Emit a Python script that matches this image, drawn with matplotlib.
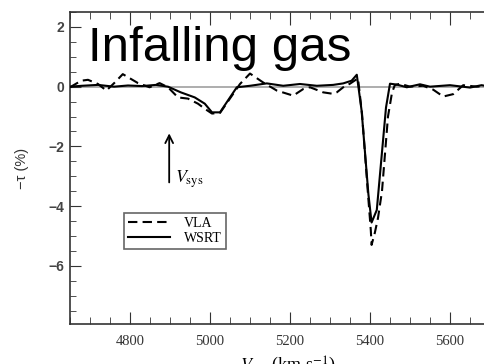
import numpy as np
import matplotlib
matplotlib.use('Agg')
import matplotlib.pyplot as plt
from matplotlib.ticker import MultipleLocator

plt.rcParams['mathtext.fontset'] = 'stix'

# VLA spectrum (dashed)
vla_v = [4650, 4678, 4695, 4720, 4741, 4762, 4782, 4820, 4849, 4874, 4895, 4920,
         4945, 4970, 4987, 5005, 5025, 5075, 5100, 5133, 5167, 5208, 5233, 5250,
         5283, 5308, 5317, 5335, 5350, 5370, 5380, 5395, 5402, 5404, 5412, 5420,
         5430, 5445, 5455, 5462, 5475, 5500, 5533, 5558, 5583, 5608, 5633, 5667, 5700]
vla_tau = [-0.02, 0.2, 0.23, 0.09, -0.13, 0.14, 0.42, 0.12, -0.02, 0.12, -0.02, -0.36,
           -0.4, -0.57, -0.74, -0.9, -0.88, 0.09, 0.44, 0.14, -0.13, -0.3, -0.08, -0.02,
           -0.19, -0.24, -0.19, 0.0, 0.1, 0.28, -0.9, -3.6, -4.8, -5.3, -4.9, -4.4,
           -3.5, -1.0, -0.2, 0.05, 0.1, 0.0, 0.03, -0.1, -0.33, -0.25, 0.05, 0.0, 0.03]

# WSRT spectrum (solid)
wsrt_v = [4650, 4680, 4720, 4760, 4795, 4830, 4865, 4895, 4927, 4962, 4987, 5005,
          5025, 5067, 5100, 5142, 5183, 5225, 5267, 5308, 5333, 5354, 5367, 5379,
          5396, 5404, 5417, 5440, 5450, 5467, 5492, 5525, 5550, 5600, 5650, 5679, 5700]
wsrt_tau = [0.0, 0.03, 0.06, 0.0, 0.04, 0.02, 0.06, 0.0, -0.19, -0.36, -0.57, -0.86,
            -0.86, -0.02, 0.03, 0.11, 0.03, 0.09, 0.03, 0.06, 0.11, 0.2, 0.4, -0.8,
            -3.6, -4.55, -4.13, -0.7, 0.1, 0.07, -0.02, 0.08, 0.0, 0.05, -0.03, 0.05, 0.0]

fig = plt.figure(figsize=(4.85, 3.64), dpi=100)
ax = fig.add_axes([0.1443, 0.1099, 0.866, 0.857])

ax.axhline(0, color='#a0a0a0', lw=1.2, zorder=1)
ax.plot(vla_v, vla_tau, color='black', lw=1.5, ls=(0, (4.5, 2.5)), label='VLA', zorder=3)
ax.plot(wsrt_v, wsrt_tau, color='black', lw=1.5, label='WSRT', zorder=3)

ax.set_xlim(4650, 5700)
ax.set_ylim(-7.95, 2.5)
ax.xaxis.set_major_locator(MultipleLocator(200))
ax.xaxis.set_minor_locator(MultipleLocator(50))
ax.yaxis.set_major_locator(MultipleLocator(2))
ax.yaxis.set_minor_locator(MultipleLocator(0.5))
ax.tick_params(which='both', direction='in', top=True, right=False, color='#333333')
ax.tick_params(axis='x', which='major', length=9, labelsize=10.5, pad=8)
ax.tick_params(axis='x', which='minor', length=5)
ax.tick_params(axis='y', which='major', length=8, labelsize=10, pad=4)
ax.tick_params(axis='y', which='minor', length=4)
for lab in ax.get_xticklabels():
    lab.set_family('Liberation Serif')
    lab.set_color('#333333')
for lab in ax.get_yticklabels():
    lab.set_family('Liberation Sans')
    lab.set_color('#444444')
    lab.set_fontweight('bold')
for s in ax.spines.values():
    s.set_color('#333333')
    s.set_linewidth(1.2)

ax.set_ylabel('\u2212\u03c4 (%)', fontsize=10.5, family='Liberation Sans', color='#333333', labelpad=14)

ax.annotate('', xy=(4898, -1.47), xytext=(4898, -3.3),
            arrowprops=dict(arrowstyle='->', lw=1.3, color='black', mutation_scale=14))
ax.text(4912, -3.23, r'$V_{\rm sys}$', fontsize=13, va='baseline')

ax.text(4695, 0.87, 'Infalling gas', fontsize=35.5, family='Liberation Sans', va='baseline')

leg = ax.legend(loc='upper left', bbox_to_anchor=(124 / 485, 1 - 213 / 364),
                bbox_transform=fig.transFigure, fancybox=False, framealpha=1,
                edgecolor='#666666', prop={'family': 'Liberation Serif', 'size': 10},
                handlelength=3.0, borderpad=0.3, labelspacing=0.1, handletextpad=1.0,
                borderaxespad=0)
leg.get_frame().set_linewidth(1.2)

fig.text(0.594, 1 - 355 / 364, r'$V_{\rm hel}$ (km s$^{-1}$)', fontsize=13,
         family='Liberation Serif', ha='center', va='top')

fig.savefig('out.png', dpi=100)
